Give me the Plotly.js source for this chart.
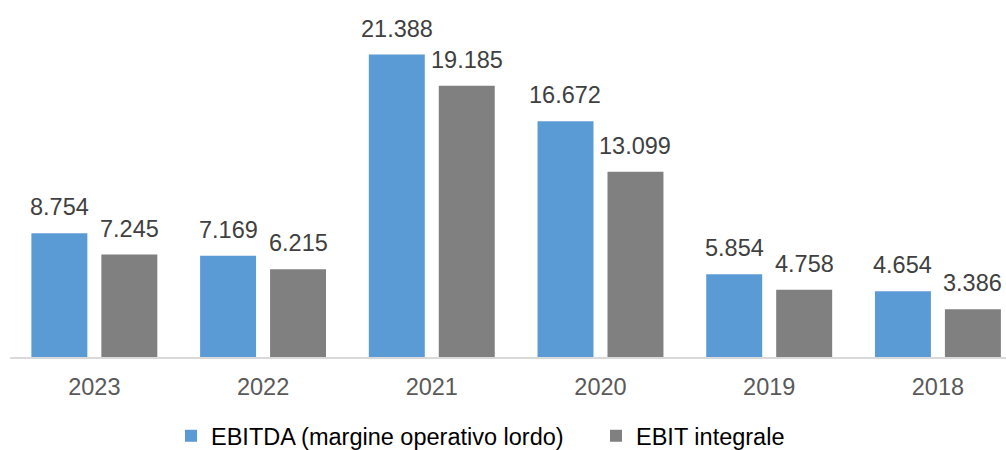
<!DOCTYPE html>
<html>
<head>
<meta charset="utf-8">
<script src="https://cdn.plot.ly/plotly-3.0.1.min.js"></script>
<style>html,body{margin:0;padding:0;background:#fff}#chart{width:1006px;height:450px}</style>
</head>
<body>
<div id="chart"></div>
<script>
var years = ['2023', '2022', '2021', '2020', '2019', '2018'];
var ebitda = [8.754, 7.169, 21.388, 16.672, 5.854, 4.654];
var ebit = [7.245, 6.215, 19.185, 13.099, 4.758, 3.386];
var ebitdaLabels = ['8.754', '7.169', '21.388', '16.672', '5.854', '4.654'];
var ebitLabels = ['7.245', '6.215', '19.185', '13.099', '4.758', '3.386'];
var seriesNames = ['EBITDA (margine operativo lordo)', 'EBIT integrale'];

var FONT = 'Liberation Sans, Arial, sans-serif';
var blue = '#5B9BD5', gray = '#808080';

var traces = [
  {type: 'bar', name: seriesNames[0], x: years, y: ebitda, marker: {color: blue}, hoverinfo: 'none'},
  {type: 'bar', name: seriesNames[1], x: years, y: ebit, marker: {color: gray}, hoverinfo: 'none'}
];

var annotations = [];
years.forEach(function (yr, i) {
  annotations.push({x: i, y: ebitda[i], xref: 'x', yref: 'y', text: ebitdaLabels[i], showarrow: false,
    yanchor: 'bottom', xanchor: 'center', xshift: -35, yshift: 11, font: {family: FONT, size: 23.5, color: '#404040'}});
  annotations.push({x: i, y: ebit[i], xref: 'x', yref: 'y', text: ebitLabels[i], showarrow: false,
    yanchor: 'bottom', xanchor: 'center', xshift: 35, yshift: 11, font: {family: FONT, size: 23.5, color: '#404040'}});
});

var layout = {
  width: 1006, height: 450,
  margin: {l: 9.5, r: 0, t: 0, b: 92.7, pad: 0},
  paper_bgcolor: '#fff', plot_bgcolor: '#fff',
  barmode: 'group', bargap: 0.1706, bargroupgap: 0.2,
  font: {family: FONT},
  xaxis: {
    type: 'category', range: [-0.5, 5.4036], fixedrange: true,
    showline: true, linecolor: '#d9d9d9', linewidth: 1.5,
    showgrid: false, zeroline: false, ticks: '', ticklabelstandoff: 8,
    tickfont: {family: FONT, size: 23.5, color: '#595959'}
  },
  yaxis: {range: [0, 25.25], visible: false, showgrid: false, zeroline: false, fixedrange: true},
  showlegend: true,
  legend: {
    orientation: 'h', xref: 'container', y: 1 - 436 / 450, yref: 'container',
    xanchor: 'left', yanchor: 'middle', entrywidth: 380, bgcolor: 'rgba(0,0,0,0)',
    font: {family: FONT, size: 23.5, color: '#000'}
  },
  annotations: annotations
};
layout.legend.x = 171 / 1006;

Plotly.newPlot('chart', traces, layout, {staticPlot: true, displayModeBar: false});
</script>
</body>
</html>
